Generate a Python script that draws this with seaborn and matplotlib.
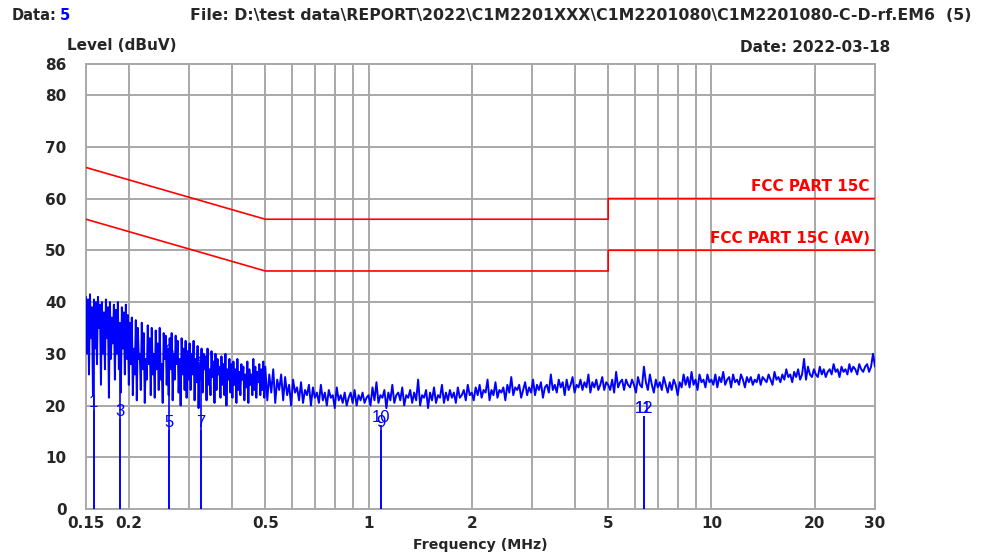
import numpy as np
import pandas as pd
import matplotlib
matplotlib.use("Agg")
import matplotlib.pyplot as plt
import seaborn as sns

# ---- measured trace (dBuV); each band is swept on its own log-spaced grid ----
band_edges_mhz = [0.15, 0.5, 1, 2, 5, 10, 30]

seg_150k_500k = [
    # 0.15 - 0.2 MHz
    41, 30, 40.5, 26, 41.5, 33, 39, 22, 40.5, 31,
    40, 28, 41, 35, 39.5, 24, 40, 30, 38, 27,
    40.5, 33, 39, 21.5, 40, 29, 37, 32, 39.5, 25,
    38.5, 30, 40, 27, 36, 22.5, 39, 31, 38, 26,
    39.5, 29, 37.5,
    # 0.2 - 0.3 MHz
    24, 36, 28, 37, 22, 31, 26, 36.5, 21, 35,
    29, 30, 23, 36, 27, 34, 20.5, 29, 25, 35.5,
    28, 33, 22, 35, 26, 30, 21.5, 34.5, 27, 32,
    23, 35, 25, 28, 20.5, 34, 29, 33.5, 24, 31,
    22, 33, 27, 34, 21, 30, 25, 33.5, 28, 32.5,
    22.5, 29, 20, 33, 26, 31, 23, 32.5, 21.5, 30.5,
    25,
    # 0.3 - 0.4 MHz
    32, 23, 30, 26, 32.5, 21, 29, 24.5, 31.5, 19.5,
    28, 25, 31, 22.5, 30, 27, 29.5, 21, 31, 24,
    27, 22, 30.5, 25.5, 28.5, 20.5, 30, 23, 29, 26,
    27.5, 21.5, 29.5, 24, 28, 22, 30, 20, 27, 25,
    29, 22.5, 28,
    # 0.4 - 0.5 MHz
    21.5, 28.5, 24, 27, 20.5, 29, 23, 26.5, 22, 28,
    25, 27.5, 21, 26, 23.5, 28.5, 20.5, 27, 24, 26,
    22, 29, 23, 27.5, 21.5, 26.5, 24.5, 28, 22, 27,
    23, 28.5, 21.5,
]
seg_500k_1m = [
    27.5, 21, 26, 22.5, 27, 20.5, 25, 23, 26, 21,
    25.5, 22, 24, 20, 25, 22.5, 23.5, 21, 24.5, 20.5,
    23, 22, 24, 20, 23.5, 21.5, 22.5, 20.5, 24, 21,
    22.5, 20, 23, 21.5, 22, 19.5, 23.5, 21, 22, 20.5,
    22.5, 20, 21.5, 22.5, 20.5, 23, 20, 22, 21, 22.5,
    20.5, 21.5,
]
seg_1m_2m = [
    22, 20, 23.5, 21, 24.5, 20.5, 22, 21.5, 23, 19.5,
    22.5, 21, 24, 20.5, 22, 22.5, 21, 23.5, 20, 22,
    21.5, 23, 20.5, 22.5, 21, 25, 20, 22, 21.5, 23,
    19.5, 22.5, 21, 23.5, 20.5, 22, 21.5, 24, 20.5, 22.5,
    21, 23, 21.5, 22.5, 20.5, 23.5, 21.5, 22, 23, 21,
    24, 22,
]
seg_2m_5m = [
    22.5, 21, 23.5, 22, 24, 21.5, 23, 22.5, 25, 21,
    23, 22, 24.5, 21.5, 23, 22.5, 23.5, 21, 24, 22.5,
    25.5, 22, 23.5, 23, 24, 21.5, 23, 24.5, 22, 23.5,
    22.5, 25, 22, 24, 23, 24.5, 21.5, 23.5, 24, 22.5,
    26, 23, 24, 22.5, 25, 23.5, 24.5, 22, 25, 23,
    24, 25.5, 22.5, 24, 23.5, 25, 23, 24.5, 23.5, 26,
    22.5, 24.5, 23.5, 25, 23, 24, 25.5, 23, 24.5,
]
seg_5m_10m = [
    24, 23, 25, 22.5, 26.5, 23.5, 24.5, 25, 23, 25,
    24, 23.5, 25, 24, 22.5, 25.5, 24, 23.5, 27.5, 24.5,
    23, 26, 24, 22.5, 25, 23.5, 24.5, 23, 25.5, 24,
    22.5, 24.5, 23, 25, 24, 22, 24.5, 23.5, 26, 24,
    25.5, 23.5, 26.5, 24, 25, 23, 26, 24.5, 25, 23.5,
    26, 24.5,
]
seg_10m_30m = [
    25, 24, 26, 23.5, 25.5, 24.5, 26.5, 24, 25, 25.5,
    23.5, 26, 24.5, 25, 24, 26, 25, 23.5, 25.5, 24.5,
    25.5, 24, 25, 24.5, 26, 24, 25.5, 25, 24.5, 26,
    25, 24, 26.5, 25, 25.5, 24.5, 26, 25, 27, 25.5,
    26, 24.5, 26.5, 25.5, 27, 25, 26, 29, 25, 27.5,
    26, 25.5, 27, 26, 25.5, 27.5, 26, 27, 25.5, 26.5,
    27, 26, 28, 26.5, 27, 25.5, 27.5, 26.5, 27, 26,
    28, 26.5, 27.5, 27, 26, 28, 27, 26.5, 27.5, 28,
    26.5, 27.5, 30, 27.5,
]
bands = [seg_150k_500k, seg_500k_1m, seg_1m_2m, seg_2m_5m, seg_5m_10m, seg_10m_30m]

# ---- limit lines (MHz, dBuV) ----
qp_limit_freq = [0.15, 0.5, 5, 5, 30]
qp_limit_level = [66, 56, 56, 60, 60]
av_limit_freq = [0.15, 0.5, 5, 5, 30]
av_limit_level = [56, 46, 46, 50, 50]
limit_names = ["FCC PART 15C", "FCC PART 15C (AV)"]

# ---- final measurement markers ----
marker_ids = [1, 2, 3, 4, 5, 6, 7, 8, 9, 10, 11, 12]
marker_freq = [0.158, 0.158, 0.188, 0.188, 0.262, 0.262,
               0.325, 0.325, 1.086, 1.086, 6.35, 6.35]
marker_level = [19.2, 35.3, 17.3, 33.0, 15.3, 28.9,
                15.3, 26.6, 15.3, 16.3, 18.0, 18.0]

x_tick_values = [0.15, 0.2, 0.5, 1, 2, 5, 10, 20, 30]
x_tick_labels = ["0.15", "0.2", "0.5", "1", "2", "5", "10", "20", "30"]
y_tick_values = [0, 10, 20, 30, 40, 50, 60, 70, 80, 86]
x_grid_values = [0.2, 0.3, 0.4, 0.5, 0.6, 0.7, 0.8, 0.9, 1,
                 2, 3, 4, 5, 6, 7, 8, 9, 10, 20]

sns.set_style("white")
plt.rcParams["font.family"] = ["DejaVu Sans"]

freq_parts = []
for lo, hi, seg in zip(band_edges_mhz[:-1], band_edges_mhz[1:], bands):
    last = hi == band_edges_mhz[-1]
    freq_parts.append(np.geomspace(lo, hi, len(seg), endpoint=last))
trace = pd.DataFrame({
    "freq": np.concatenate(freq_parts),
    "level": np.concatenate([np.asarray(s, float) for s in bands]),
})
qp = pd.DataFrame({"freq": qp_limit_freq, "level": qp_limit_level})
av = pd.DataFrame({"freq": av_limit_freq, "level": av_limit_level})

fig = plt.figure(figsize=(9.84, 5.57), dpi=100)
ax = fig.add_axes([86 / 984, 48 / 557, 789 / 984, 445 / 557])

grid_color = "#a8a8a8"
for xv in x_grid_values:
    ax.axvline(xv, color=grid_color, lw=1.4, zorder=0)
for yv in range(10, 81, 10):
    ax.axhline(yv, color=grid_color, lw=1.4, zorder=0)

sns.lineplot(data=trace, x="freq", y="level", ax=ax, color="#0000ff",
             lw=1.4, estimator=None, sort=False, zorder=3)
sns.lineplot(data=qp, x="freq", y="level", ax=ax, color="#ff0000",
             lw=1.2, estimator=None, sort=False, zorder=4)
sns.lineplot(data=av, x="freq", y="level", ax=ax, color="#ff0000",
             lw=1.2, estimator=None, sort=False, zorder=4)

ax.vlines(marker_freq, 0, marker_level, color="#0000ff", lw=1.2, zorder=3)
for mid, mf, ml in zip(marker_ids, marker_freq, marker_level):
    ax.text(mf, ml, str(mid), color="#0000ff", fontsize=12,
            family="Liberation Sans", ha="center", va="bottom", zorder=5)

ax.text(29, qp_limit_level[-1] + 0.9, limit_names[0], color="#ff0000",
        fontsize=11, fontweight="bold", ha="right", va="bottom")
ax.text(29, av_limit_level[-1] + 0.9, limit_names[1], color="#ff0000",
        fontsize=11, fontweight="bold", ha="right", va="bottom")

ax.set_xscale("log")
ax.set_xlim(0.15, 30)
ax.set_ylim(0, 86)
ax.set_xticks(x_tick_values)
ax.set_xticklabels(x_tick_labels)
ax.xaxis.set_minor_locator(matplotlib.ticker.NullLocator())
ax.set_yticks(y_tick_values)
ax.tick_params(axis="both", length=0, labelsize=11)
ax.tick_params(axis="x", pad=5)
ax.tick_params(axis="y", pad=14)
for lab in ax.get_xticklabels() + ax.get_yticklabels():
    lab.set_fontweight("bold")
ax.set_xlabel("Frequency (MHz)", fontsize=10.2, fontweight="bold", labelpad=5)
ax.set_ylabel("")
for sp in ax.spines.values():
    sp.set_color(grid_color)
    sp.set_linewidth(1.4)

fig.text(12 / 984, 1 - 16 / 557, "Data:", fontsize=10.5, fontweight="bold",
         va="center", ha="left")
fig.text(60 / 984, 1 - 16 / 557, "5", fontsize=10.5, fontweight="bold",
         va="center", ha="left", color="#0000ff")
fig.text(190 / 984, 1 - 16 / 557,
         "File: D:\\test data\\REPORT\\2022\\C1M2201XXX\\C1M2201080\\C1M2201080-C-D-rf.EM6  (5)",
         fontsize=11.3, fontweight="bold", va="center", ha="left")
fig.text(67 / 984, 1 - 46 / 557, "Level (dBuV)", fontsize=11, fontweight="bold",
         va="center", ha="left")
fig.text(890 / 984, 1 - 47 / 557, "Date: 2022-03-18", fontsize=11,
         fontweight="bold", va="center", ha="right")

fig.savefig("out.png", dpi=100)
